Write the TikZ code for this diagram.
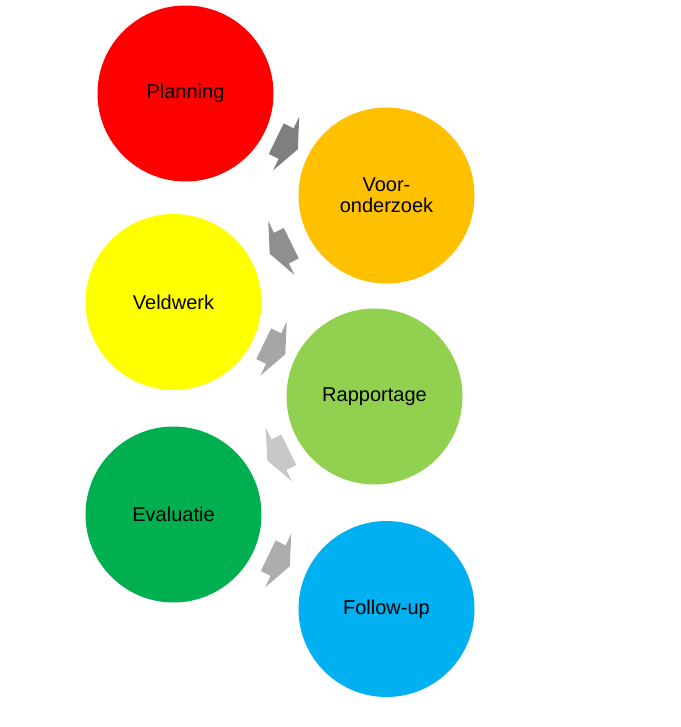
\documentclass[tikz,border=0pt]{standalone}
\usepackage{fontspec}
\setmainfont{Liberation Sans}
\definecolor{cplan}{RGB}{255,0,0}
\definecolor{cvoor}{RGB}{255,192,0}
\definecolor{cveld}{RGB}{255,255,0}
\definecolor{crapp}{RGB}{146,208,80}
\definecolor{ceval}{RGB}{0,176,80}
\definecolor{cfoll}{RGB}{0,176,240}
\definecolor{aone}{RGB}{127,127,127}
\definecolor{atwo}{RGB}{143,143,143}
\definecolor{athree}{RGB}{166,166,166}
\definecolor{afour}{RGB}{200,200,200}
\definecolor{afive}{RGB}{173,173,173}
\begin{document}
\begin{tikzpicture}[x=1pt,y=1pt,
  stage/.style={circle,minimum size=176pt,inner sep=0pt,align=center,
    font=\fontsize{20}{21}\selectfont,text=black},
  bend/.style={fill=#1,draw=none}]
\useasboundingbox (0,0) rectangle (680,-727);
\node[stage,fill=cplan] (plan) at (185.5,-93.5) {Planning};
\node[stage,fill=cvoor] (voor) at (386.5,-195.5) {Voor-\\onderzoek};
\node[stage,fill=cveld] (veld) at (173.5,-302) {Veldwerk};
\node[stage,fill=crapp] (rapp) at (374.5,-396.5) {Rapportage};
\node[stage,fill=ceval] (eval) at (173.5,-514.5) {Evaluatie};
\node[stage,fill=cfoll] (foll) at (386.5,-609) {Follow-up};
\def\arrowpath{(-12,17) -- (-1,17) -- (-1,30) -- (12,0) -- (-1,-30) -- (-1,-17) -- (-12,-17) -- cycle}
\begin{scope}[shift={(287,-144)},rotate=-26]
  \fill[bend=aone] \arrowpath;
\end{scope}
\begin{scope}[shift={(280.5,-248.5)},rotate=-154]
  \fill[bend=atwo] \arrowpath;
\end{scope}
\begin{scope}[shift={(274.5,-349)},rotate=-26]
  \fill[bend=athree] \arrowpath;
\end{scope}
\begin{scope}[shift={(278,-455)},rotate=-154]
  \fill[bend=afour] \arrowpath;
\end{scope}
\begin{scope}[shift={(279,-561)},rotate=-26]
  \fill[bend=afive] \arrowpath;
\end{scope}
\end{tikzpicture}
\end{document}
